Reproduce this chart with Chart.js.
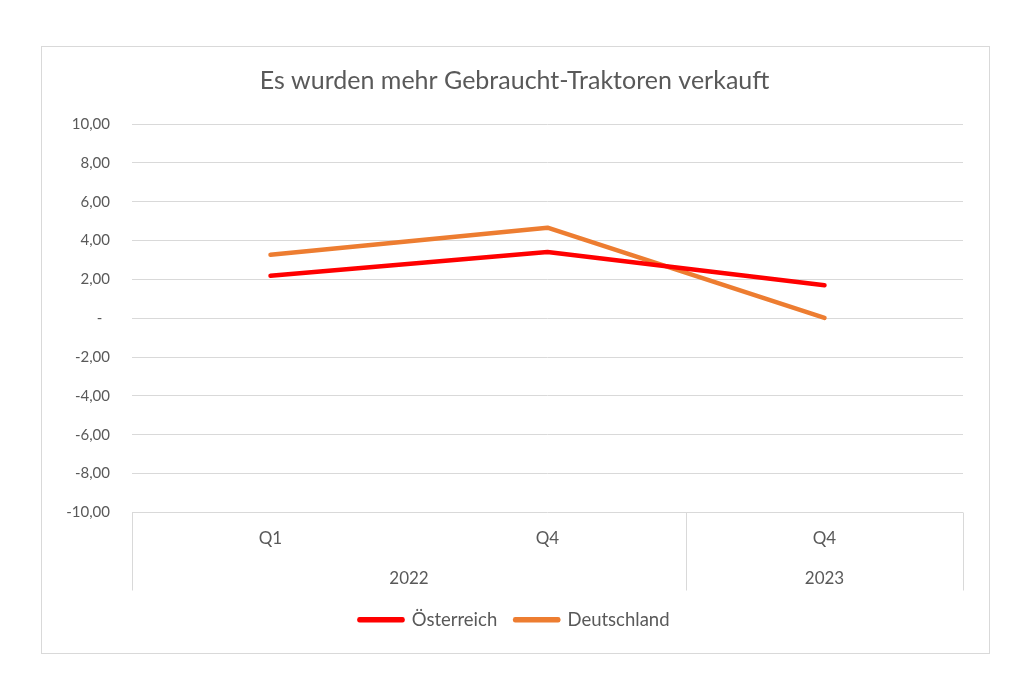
<!DOCTYPE html>
<html>
<head>
<meta charset="utf-8">
<script src="https://cdn.jsdelivr.net/npm/chart.js@4/dist/chart.umd.min.js"></script>
<style>
  html, body { margin: 0; padding: 0; background: #ffffff; }
  #box { position: absolute; left: 41px; top: 46px; width: 947px; height: 606px; border: 1px solid #d9d9d9; background: #fff; }
</style>
</head>
<body>
<div id="box"><canvas id="c"></canvas></div>
<script>
const quarters = ["Q1", "Q4", "Q4"];
const years = ["2022", "2022", "2023"];
const oesterreich = [2.19, 3.41, 1.70];
const deutschland = [3.27, 4.66, 0.02];
const yTicks = [10, 8, 6, 4, 2, 0, -2, -4, -6, -8, -10];

const FONT = "Lato, 'Open Sans', sans-serif";
const TXT = "#595959";
const GRID = "#d9d9d9";

const groupPlugin = {
  id: 'groups',
  afterDraw(chart) {
    const x = chart.scales.x;
    const area = chart.chartArea;
    const ctx = chart.ctx;
    const n = years.length;
    const half = (x.getPixelForValue(1) - x.getPixelForValue(0)) / 2;
    const groups = [];
    let start = 0;
    for (let i = 1; i <= n; i++) {
      if (i === n || years[i] !== years[start]) {
        groups.push({ label: years[start], from: start, to: i - 1 });
        start = i;
      }
    }
    const yTop = area.bottom;
    const yBot = area.bottom + 78;
    ctx.save();
    ctx.strokeStyle = GRID;
    ctx.lineWidth = 1;
    const bounds = [x.getPixelForValue(0) - half];
    groups.forEach(g => bounds.push(x.getPixelForValue(g.to) + half));
    bounds.forEach(b => {
      const bx = Math.round(b) + 0.5;
      ctx.beginPath();
      ctx.moveTo(bx, yTop);
      ctx.lineTo(bx, yBot);
      ctx.stroke();
    });
    ctx.fillStyle = TXT;
    ctx.font = "17px " + FONT;
    ctx.textAlign = 'center';
    ctx.textBaseline = 'middle';
    groups.forEach(g => {
      const cx = (x.getPixelForValue(g.from) - half + x.getPixelForValue(g.to) + half) / 2;
      ctx.fillText(g.label, cx, area.bottom + 66);
    });
    ctx.restore();
  }
};

new Chart(document.getElementById('c'), {
  type: 'line',
  data: {
    labels: quarters,
    datasets: [
      { label: 'Österreich', data: oesterreich, borderColor: '#ff0000', backgroundColor: '#ff0000', borderWidth: 4.5, pointRadius: 0, tension: 0, borderCapStyle: 'round', borderJoinStyle: 'round' },
      { label: 'Deutschland', data: deutschland, borderColor: '#ed7d31', backgroundColor: '#ed7d31', borderWidth: 4.5, pointRadius: 0, tension: 0, borderCapStyle: 'round', borderJoinStyle: 'round' }
    ]
  },
  options: {
    responsive: true,
    maintainAspectRatio: false,
    animation: false,
    layout: { padding: { left: 24, right: 26, top: 0, bottom: 14 } },
    plugins: {
      title: {
        display: true,
        text: 'Es wurden mehr Gebraucht-Traktoren verkauft',
        color: TXT,
        font: { family: FONT, size: 25, weight: 'normal' },
        padding: { top: 19, bottom: 28 }
      },
      legend: {
        position: 'bottom',
        labels: {
          color: TXT,
          font: { family: FONT, size: 18.5 },
          boxWidth: 43,
          boxHeight: 1,
          padding: 18
        }
      },
      tooltip: { enabled: false }
    },
    scales: {
      x: {
        offset: true,
        grid: { display: false },
        border: { display: false },
        ticks: { color: TXT, font: { family: FONT, size: 17 }, padding: 8, maxRotation: 0 },
        afterFit(s) { s.height = 80; }
      },
      y: {
        min: -10, max: 10,
        afterBuildTicks(s) { s.ticks = yTicks.map(v => ({ value: v })); },
        grid: { color: GRID, lineWidth: 1, drawTicks: false },
        border: { display: false },
        ticks: {
          color: TXT,
          font: { family: FONT, size: 15 },
          padding: 22,
          callback(v) { return v === 0 ? '-  ' : v.toFixed(2).replace('.', ','); }
        },
        afterFit(s) { s.width = 66; }
      }
    }
  },
  plugins: [groupPlugin]
});
</script>
</body>
</html>
